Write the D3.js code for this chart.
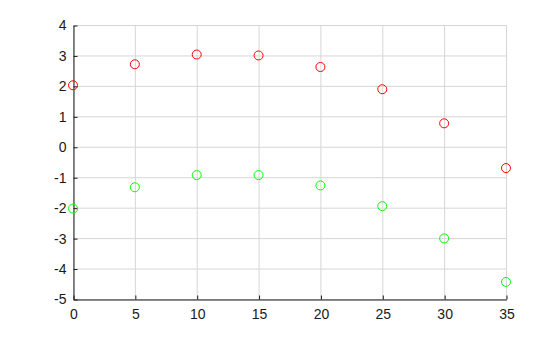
<!DOCTYPE html>
<html>
<head>
<meta charset="utf-8">
<script src="https://cdn.jsdelivr.net/npm/d3@7"></script>
<style>
  body { margin: 0; background: #fff; }
  .axis text { font-family: "Liberation Sans", Arial, sans-serif; font-size: 14px; fill: #1a1a1a; }
</style>
</head>
<body>
<div id="container"></div>
<script>
/* CONSTANTS AND GLOBALS */
const width = 560,
  height = 337,
  margin = { top: 25, right: 54, bottom: 38, left: 73 };

/* DATA */
const xValues = [0, 5, 10, 15, 20, 25, 30, 35];
const redValues = [2.02, 2.71, 3.03, 3.0, 2.62, 1.89, 0.77, -0.70];
const greenValues = [-2.03, -1.33, -0.93, -0.93, -1.27, -1.95, -3.01, -4.44];
const xTicks = [0, 5, 10, 15, 20, 25, 30, 35];
const yTicks = [-5, -4, -3, -2, -1, 0, 1, 2, 3, 4];

const svg = d3.select("#container")
  .append("svg")
  .attr("width", width)
  .attr("height", height);

/* SCALES */
const xScale = d3.scaleLinear()
  .domain([0, 35])
  .range([margin.left, width - margin.right]);

const yScale = d3.scaleLinear()
  .domain([-5, 4])
  .range([height - margin.bottom, margin.top]);

// grid
svg.append("g")
  .selectAll("line")
  .data(xTicks)
  .join("line")
  .attr("x1", d => xScale(d) + 0.5)
  .attr("x2", d => xScale(d) + 0.5)
  .attr("y1", yScale(-5))
  .attr("y2", yScale(4))
  .attr("stroke", "#d6d6d6")
  .attr("stroke-width", 1);

svg.append("g")
  .selectAll("line")
  .data(yTicks)
  .join("line")
  .attr("x1", xScale(0))
  .attr("x2", xScale(35))
  .attr("y1", d => yScale(d) + 0.5)
  .attr("y2", d => yScale(d) + 0.5)
  .attr("stroke", "#d6d6d6")
  .attr("stroke-width", 1);

// axes (plain hyphen for negatives, like the original)
const plain = d => String(d);

svg.append("g")
  .attr("class", "axis x-axis")
  .attr("transform", `translate(0.5, ${yScale(-5) + 0.5})`)
  .call(d3.axisBottom(xScale).tickValues(xTicks).tickFormat(plain).tickSizeInner(-4).tickSizeOuter(0).tickPadding(8))
  .call(g => g.select(".domain").attr("stroke", "#1a1a1a"))
  .call(g => g.selectAll(".tick line").attr("stroke", "#1a1a1a"))
  .call(g => g.selectAll(".tick text").attr("dy", "0.85em"));

svg.append("g")
  .attr("class", "axis y-axis")
  .attr("transform", `translate(${xScale(0) + 0.5}, 0.5)`)
  .call(d3.axisLeft(yScale).tickValues(yTicks).tickFormat(plain).tickSizeInner(-4).tickSizeOuter(0).tickPadding(7))
  .call(g => g.select(".domain").attr("stroke", "#1a1a1a"))
  .call(g => g.selectAll(".tick line").attr("stroke", "#1a1a1a"));

/* MARKS */
svg.append("g")
  .selectAll("circle")
  .data(xValues.map((x, i) => ({ x, y: redValues[i] })))
  .join("circle")
  .attr("cx", d => xScale(d.x))
  .attr("cy", d => yScale(d.y))
  .attr("r", 4.5)
  .attr("fill", "none")
  .attr("stroke", "#ff0000")
  .attr("stroke-width", 1);

svg.append("g")
  .selectAll("circle")
  .data(xValues.map((x, i) => ({ x, y: greenValues[i] })))
  .join("circle")
  .attr("cx", d => xScale(d.x))
  .attr("cy", d => yScale(d.y))
  .attr("r", 4.5)
  .attr("fill", "none")
  .attr("stroke", "#00ff00")
  .attr("stroke-width", 1);
</script>
</body>
</html>
